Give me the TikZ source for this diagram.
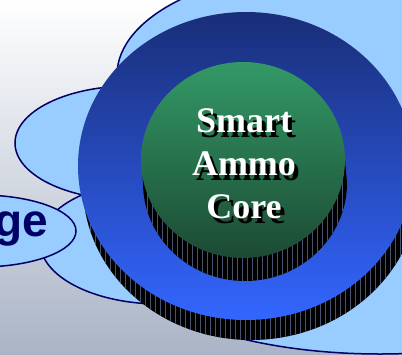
\documentclass[tikz,border=0pt]{standalone}
\usepackage{fontspec}
\setmainfont{Liberation Serif}
\newfontfamily\labelfont{Liberation Sans}
\definecolor{bgbottom}{RGB}{170,180,198}
\definecolor{cloudblue}{RGB}{153,204,255}
\definecolor{navyline}{RGB}{0,0,102}
\definecolor{ringtop}{RGB}{25,46,120}
\definecolor{ringbottom}{RGB}{51,102,255}
\definecolor{coretop}{RGB}{51,153,102}
\definecolor{corebottom}{RGB}{28,74,52}
\definecolor{streak}{RGB}{70,82,112}

\begin{document}
\begin{tikzpicture}[
  x=1pt, y=-1pt,
  cloud/.style={fill=cloudblue, draw=navyline, line width=1.5pt},
  side/.style={fill=black},
  streakline/.style={draw=streak, line width=0.3pt},
  ringface/.style={top color=ringtop, bottom color=ringbottom},
  coreface/.style={top color=coretop, bottom color=corebottom},
  coretext/.style={text=white, font=\bfseries\fontsize{36}{43}\selectfont, anchor=base},
  coreshadow/.style={coretext, text=black},
  shelltext/.style={text=navyline, font=\labelfont\bfseries\fontsize{46}{46}\selectfont, anchor=base east}
]
\useasboundingbox (0,0) rectangle (402,354);
\clip (0,0) rectangle (402,354);
\shade[top color=white, bottom color=bgbottom] (0,0) rectangle (402,354);

% outer shells
\filldraw[cloud] (380,254) ellipse [x radius=260, y radius=100];
\filldraw[cloud] (160,242) ellipse [x radius=120, y radius=62];
\filldraw[cloud] (325,75) ellipse [x radius=208, y radius=105];
\filldraw[cloud] (130,143) ellipse [x radius=115, y radius=57];
\filldraw[cloud] (-20,231) ellipse [x radius=96, y radius=36];
\node[shelltext] (shell) at (52,236) {ge};

% outer disc
\fill[side] (78,166) -- (83,186) arc[start angle=180, end angle=0, x radius=168, y radius=154] -- (414,166) -- cycle;
\begin{scope}
  \clip (78,166) -- (83,186) arc[start angle=180, end angle=0, x radius=168, y radius=154] -- (414,166) -- cycle;
  \foreach \x in {80,85,...,415}
    \draw[streakline] (\x,150) -- (\x,345);
\end{scope}
\shade[ringface] (246,166) ellipse [x radius=168, y radius=154];

% core disc
\fill[side] (141,160) -- (143,183) arc[start angle=180, end angle=0, x radius=102, y radius=98] -- (345,160) -- cycle;
\begin{scope}
  \clip (141,160) -- (143,183) arc[start angle=180, end angle=0, x radius=102, y radius=98] -- (345,160) -- cycle;
  \foreach \x in {142,147,...,347}
    \draw[streakline] (\x,150) -- (\x,285);
\end{scope}
\shade[coreface] (243,160) ellipse [x radius=102, y radius=98];

\foreach \word/\y [count=\i] in {Smart/132, Ammo/175, Core/218} {
  \node[coreshadow] (shadow\i) at (248,{\y+5}) {\word};
  \node[coretext] (core\i) at (244,\y) {\word};
}
\end{tikzpicture}
\end{document}
